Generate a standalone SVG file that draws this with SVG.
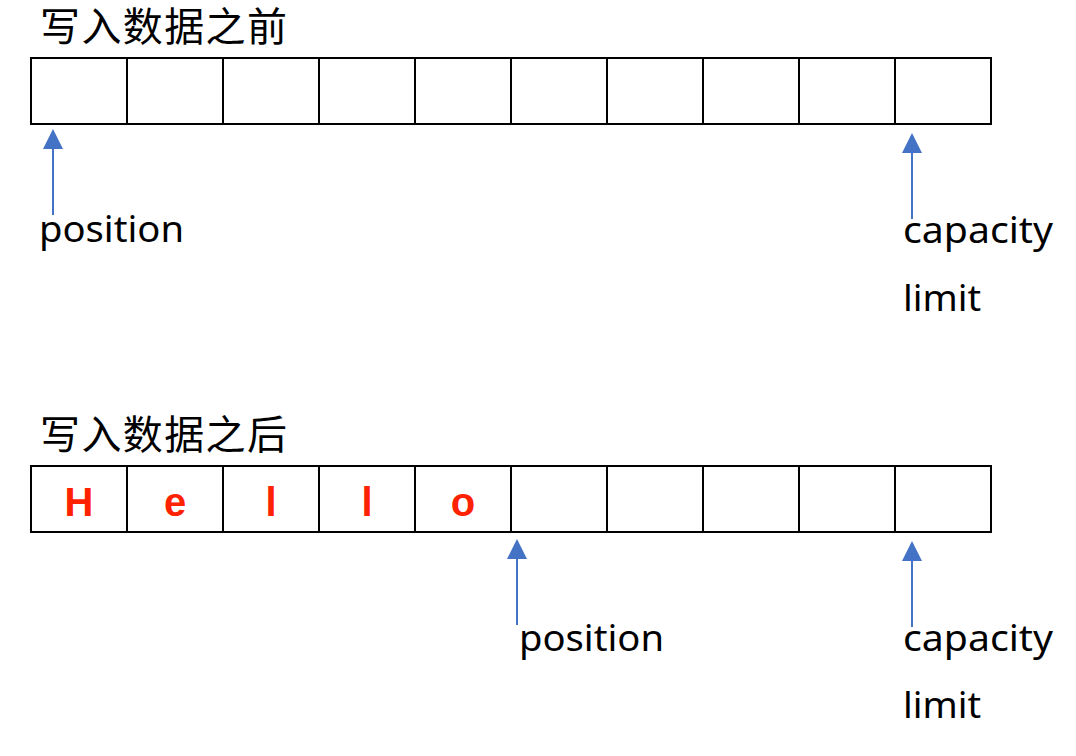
<svg xmlns="http://www.w3.org/2000/svg" width="1076" height="756" viewBox="0 0 1076 756">
<defs>
<style>
.title{font-family:"Noto Sans CJK SC","Noto Sans",sans-serif;font-size:40px;fill:#000}
.lbl{font-family:"Noto Sans","Liberation Sans",sans-serif;font-size:36px;fill:#000}
.ch{font-family:"Liberation Sans",Arial,sans-serif;font-weight:bold;font-size:40px;fill:#FF2200;text-anchor:middle}
.box{fill:#fff;stroke:#000;stroke-width:2}
.div{stroke:#000;stroke-width:2}
.arr{stroke:#4472C4;stroke-width:2;fill:none}
.head{fill:#4472C4}
</style>
</defs>
<rect width="1076" height="756" fill="#fff"/>
<g id="before">
<text class="title" x="40" y="41" textLength="247" lengthAdjust="spacing">写入数据之前</text>
<rect class="box" x="31" y="58" width="960" height="66"/>
<path class="div" d="M127 58V124M223 58V124M319 58V124M415 58V124M511 58V124M607 58V124M703 58V124M799 58V124M895 58V124"/>
</g>
<g id="after">
<text class="title" x="40" y="449" textLength="247" lengthAdjust="spacing">写入数据之后</text>
<rect class="box" x="31" y="466" width="960" height="66"/>
<path class="div" d="M127 466V532M223 466V532M319 466V532M415 466V532M511 466V532M607 466V532M703 466V532M799 466V532M895 466V532"/>
<text class="ch" x="79" y="516">H</text>
<text class="ch" x="175" y="516">e</text>
<text class="ch" x="271" y="516">l</text>
<text class="ch" x="367" y="516">l</text>
<text class="ch" x="463" y="516">o</text>
</g>
<g id="connectors">
<line class="arr" x1="53" y1="148" x2="53" y2="215"/>
<polygon class="head" points="53,129 43,149 63,149"/>
<line class="arr" x1="912" y1="152" x2="912" y2="219"/>
<polygon class="head" points="912,133 902,153 922,153"/>
<line class="arr" x1="517" y1="558" x2="517" y2="625"/>
<polygon class="head" points="517,539 507,559 527,559"/>
<line class="arr" x1="912" y1="560" x2="912" y2="627"/>
<polygon class="head" points="912,541 902,561 922,561"/>
</g>
<g id="labels">
<text class="lbl" x="39" y="242" textLength="145" lengthAdjust="spacingAndGlyphs">position</text>
<text class="lbl" x="903" y="243" textLength="150" lengthAdjust="spacingAndGlyphs">capacity</text>
<text class="lbl" x="903" y="311" textLength="78" lengthAdjust="spacingAndGlyphs">limit</text>
<text class="lbl" x="519" y="651" textLength="145" lengthAdjust="spacingAndGlyphs">position</text>
<text class="lbl" x="903" y="651" textLength="150" lengthAdjust="spacingAndGlyphs">capacity</text>
<text class="lbl" x="903" y="718" textLength="78" lengthAdjust="spacingAndGlyphs">limit</text>
</g>
</svg>
